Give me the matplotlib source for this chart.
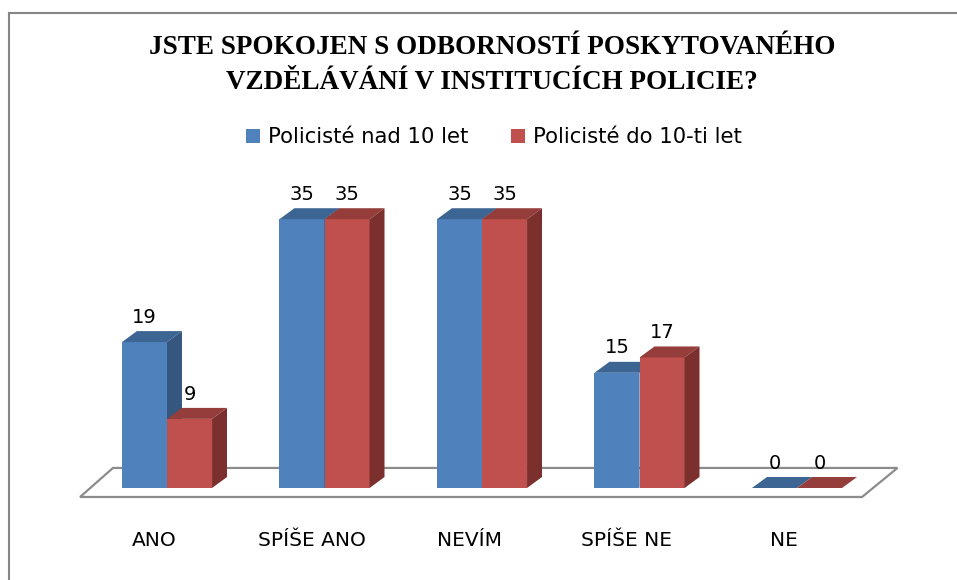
import matplotlib.pyplot as plt
from matplotlib.patches import Polygon
from matplotlib.lines import Line2D

# --- data ---
categories = ["ANO", "SPÍŠE ANO", "NEVÍM", "SPÍŠE NE", "NE"]
nad_10 = [19, 35, 35, 15, 0]
do_10 = [9, 35, 35, 17, 0]
series_names = ["Policisté nad 10 let", "Policisté do 10-ti let"]
title = "JSTE SPOKOJEN S ODBORNOSTÍ POSKYTOVANÉHO\nVZDĚLÁVÁNÍ V INSTITUCÍCH POLICIE?"

# colours (front, top, side)
BLUE = ("#4F81BD", "#3D6593", "#34567F")
RED = ("#C0504D", "#953D3B", "#7B302E")

W = 0.286           # bar width in category units
DX, DY = 0.095, 1.43  # bar depth
FDX, FDY = 0.225, 3.78  # floor depth
FONT = "DejaVu Sans"

fig = plt.figure(figsize=(9.57, 5.8), dpi=100)
ax = fig.add_axes([0, 0, 1, 1])
ax.set_xlim(-167 / 157.5, (957 - 167) / 157.5)
ax.set_ylim(-(580 - 488) / 7.68, 488 / 7.68)
ax.axis("off")

# floor of the 3d plot area
n = len(categories)
fx0, fx1, fy = -0.552, n - 0.587, -1.17
ax.add_patch(Polygon([(fx0, fy), (fx1, fy), (fx1 + FDX, fy + FDY), (fx0 + FDX - 0.016, fy + FDY)],
                     closed=True, facecolor="white", edgecolor="#8C8C8C", lw=1.6, zorder=1))


def bar3d(x0, h, cols, label=None):
    b = ax.bar(x0, h, width=W, align="edge", color=cols[0], lw=0, zorder=2, label=label)
    ax.add_patch(Polygon([(x0, h), (x0 + W, h), (x0 + W + DX, h + DY), (x0 + DX, h + DY)],
                         closed=True, facecolor=cols[1], lw=0, zorder=2))
    ax.add_patch(Polygon([(x0 + W, 0), (x0 + W + DX, DY), (x0 + W + DX, h + DY), (x0 + W, h)],
                         closed=True, facecolor=cols[2], lw=0, zorder=2))
    ax.annotate(str(h), (x0 + W / 2, h + DY), xytext=(0, 6), textcoords="offset points",
                ha="center", va="baseline", fontsize=14, family=FONT)
    return b


handles = []
for k in range(n):
    hb = bar3d(k - W, nad_10[k], BLUE, series_names[0] if k == 0 else None)
    hr = bar3d(k, do_10[k], RED, series_names[1] if k == 0 else None)
    if k == 0:
        handles = [hb, hr]
    ax.text(k - 0.08, -6.9, categories[k], ha="center", va="center",
            fontsize=14.5, family=FONT)

leg = ax.legend(handles=handles, loc="center", bbox_to_anchor=(494 / 957, 1 - 137 / 580),
                bbox_transform=fig.transFigure, ncol=2, frameon=False,
                prop={"family": FONT, "size": 15.2},
                handlelength=0.65, handleheight=0.65, handletextpad=0.4, columnspacing=2.0)

fig.text(492 / 957, 1 - 65 / 580, title, ha="center", va="center", family="Liberation Serif",
         fontweight="bold", fontsize=19.5, linespacing=1.5)

# chart border (top and left)
fig.add_artist(Line2D([9 / 957, 1], [1 - 13 / 580] * 2, transform=fig.transFigure,
                      color="#868686", lw=1.5))
fig.add_artist(Line2D([9 / 957] * 2, [0, 1 - 13 / 580], transform=fig.transFigure,
                      color="#868686", lw=1.5))

fig.savefig("out.png", dpi=100)
